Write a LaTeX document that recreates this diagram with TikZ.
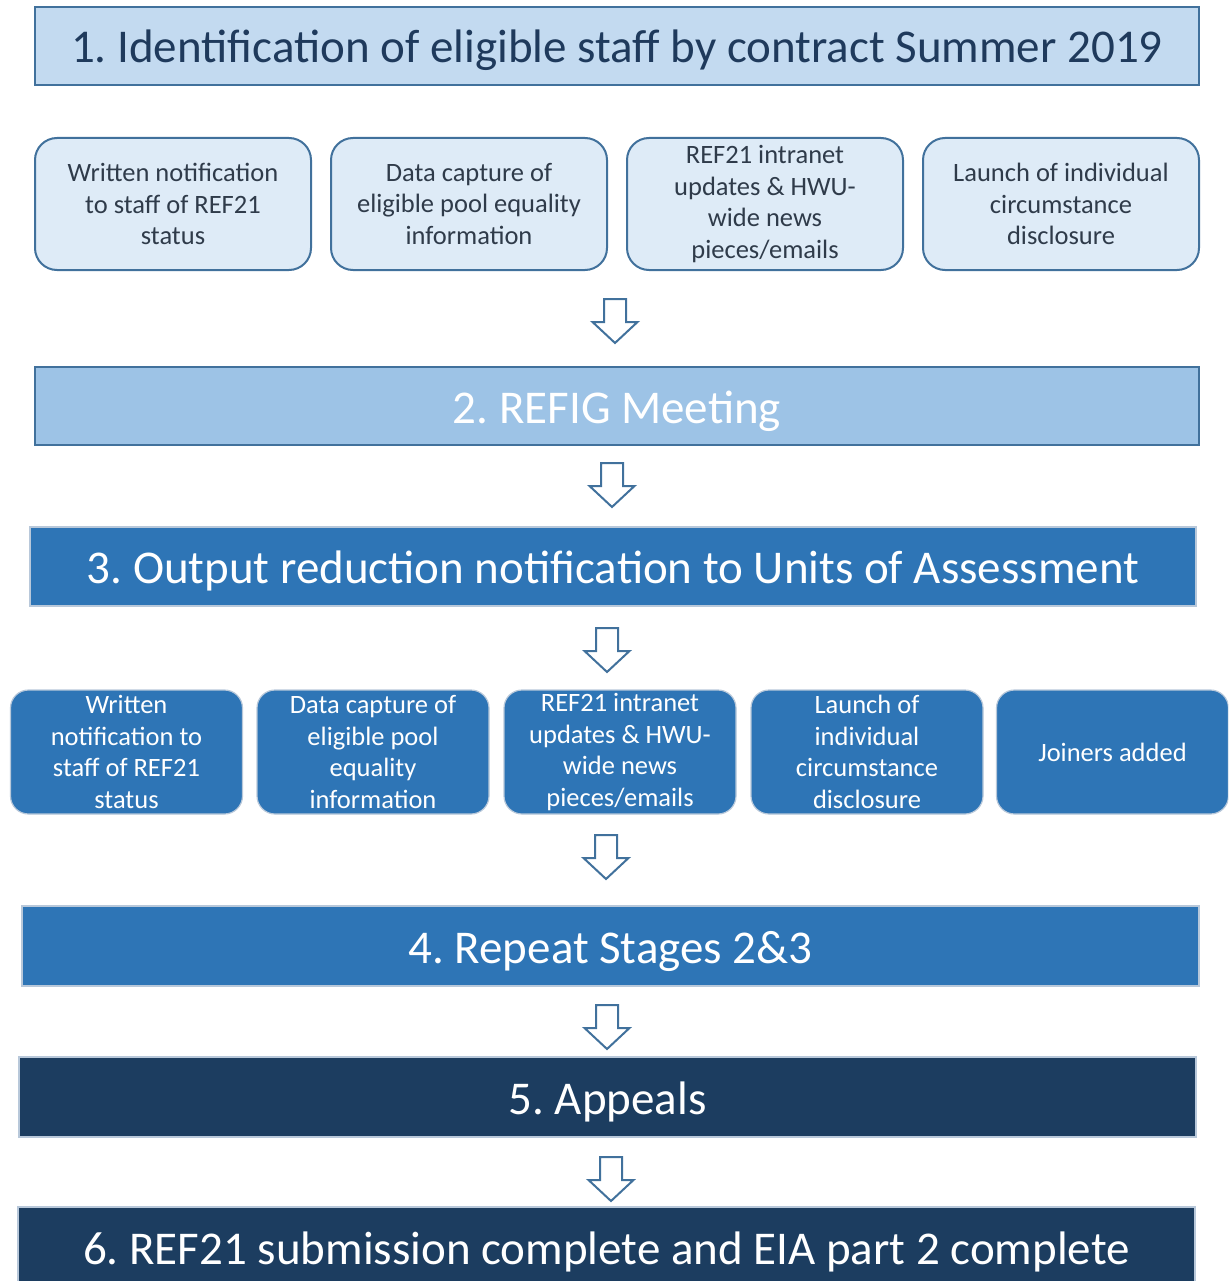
\documentclass[tikz,border=0pt]{standalone}
\usepackage{fontspec}
\setmainfont{Carlito}
\definecolor{bordblue}{HTML}{41719C}
\definecolor{lightfill}{HTML}{C3DAF0}
\definecolor{paleFill}{HTML}{DEEBF7}
\definecolor{midfill}{HTML}{9DC3E6}
\definecolor{strongblue}{HTML}{2E75B6}
\definecolor{navyfill}{HTML}{1C3D60}
\definecolor{navytext}{HTML}{1F3A5C}
\definecolor{graytext}{HTML}{2F3B4A}
\definecolor{lightedge}{HTML}{B8C8DA}
\tikzset{
  bigtext/.style={font=\fontsize{47}{56}\selectfont\frenchspacing, inner sep=0pt, align=center,
    text height=34pt, text depth=0pt},
  smalltext/.style={font=\fontsize{26.5}{31.5}\selectfont\frenchspacing, inner sep=0pt, align=center},
  bannerA/.style={bigtext, draw=bordblue, line width=2pt, fill=lightfill, text=navytext},
  bannerB/.style={bigtext, draw=bordblue, line width=2pt, fill=midfill, text=white},
  bannerC/.style={bigtext, draw=lightedge, line width=1.2pt, fill=strongblue, text=white},
  bannerD/.style={bigtext, draw=lightedge, line width=1.2pt, fill=navyfill, text=white},
  paleBox/.style={smalltext, draw=bordblue, line width=2pt, fill=paleFill, text=graytext,
    rounded corners=22pt, minimum width=276pt, minimum height=132pt},
  blueBox/.style={smalltext, draw=lightedge, line width=1.2pt, fill=strongblue, text=white,
    rounded corners=18pt, minimum width=232pt, minimum height=124pt},
  dnarrow/.pic={
    \draw[bordblue, line width=2pt, fill=white, line join=miter]
      (-11,0) -- (11,0) -- (11,23) -- (22.5,23) -- (0,44) -- (-22.5,23) -- (-11,23) -- cycle;
  }
}
\begin{document}
\begin{tikzpicture}[x=1pt,y=-1pt]
\useasboundingbox (0,0) rectangle (1228,1281);
\clip (0,0) rectangle (1228,1281);

% Stage banners
\node[bannerA, minimum width=1164pt, minimum height=78pt] (s1) at (617,46)
  {1. Identification of eligible staff by contract Summer 2019};
\node[bannerB, minimum width=1164pt, minimum height=78pt] (s2) at (617,406)
  {2. REFIG Meeting};
\node[bannerC, minimum width=1166pt, minimum height=79pt] (s3) at (613,566.5)
  {3. Output reduction notification to Units of Assessment};
\node[bannerC, minimum width=1177pt, minimum height=80pt] (s4) at (610.5,946)
  {4. Repeat Stages 2\&3};
\node[bannerD, minimum width=1177pt, minimum height=80pt] (s5) at (607.5,1097)
  {5. Appeals};
\node[bannerD, minimum width=1177pt, minimum height=80pt] (s6) at (606.5,1247)
  {6. REF21 submission complete and EIA part 2 complete};

% Row 1 boxes
\node[paleBox] (p1) at (173,204) {Written notification\\to staff of REF21\\status};
\node[paleBox] (p2) at (469,204) {Data capture of\\eligible pool equality\\information};
\node[paleBox] (p3) at (765,204) {REF21 intranet\\updates \& HWU-\\wide news\\pieces/emails};
\node[paleBox] (p4) at (1061,204) {Launch of individual\\circumstance\\disclosure};

% Row 2 boxes
\node[blueBox] (b1) at (126.5,752) {Written\\notification to\\staff of REF21\\status};
\node[blueBox] (b2) at (373,752) {Data capture of\\eligible pool\\equality\\information};
\node[blueBox] (b3) at (620,752) {REF21 intranet\\updates \& HWU-\\wide news\\pieces/emails};
\node[blueBox] (b4) at (867,752) {Launch of\\individual\\circumstance\\disclosure};
\node[blueBox] (b5) at (1112.5,752) {Joiners added};

% Block arrows between stages
\coordinate (a1) at (615,299);
\coordinate (a2) at (612,463);
\coordinate (a3) at (607,628);
\coordinate (a4) at (606,835);
\coordinate (a5) at (607,1005);
\coordinate (a6) at (611,1157);
\foreach \c in {a1,a2,a3,a4,a5,a6} { \pic at (\c) {dnarrow}; }
\end{tikzpicture}
\end{document}
